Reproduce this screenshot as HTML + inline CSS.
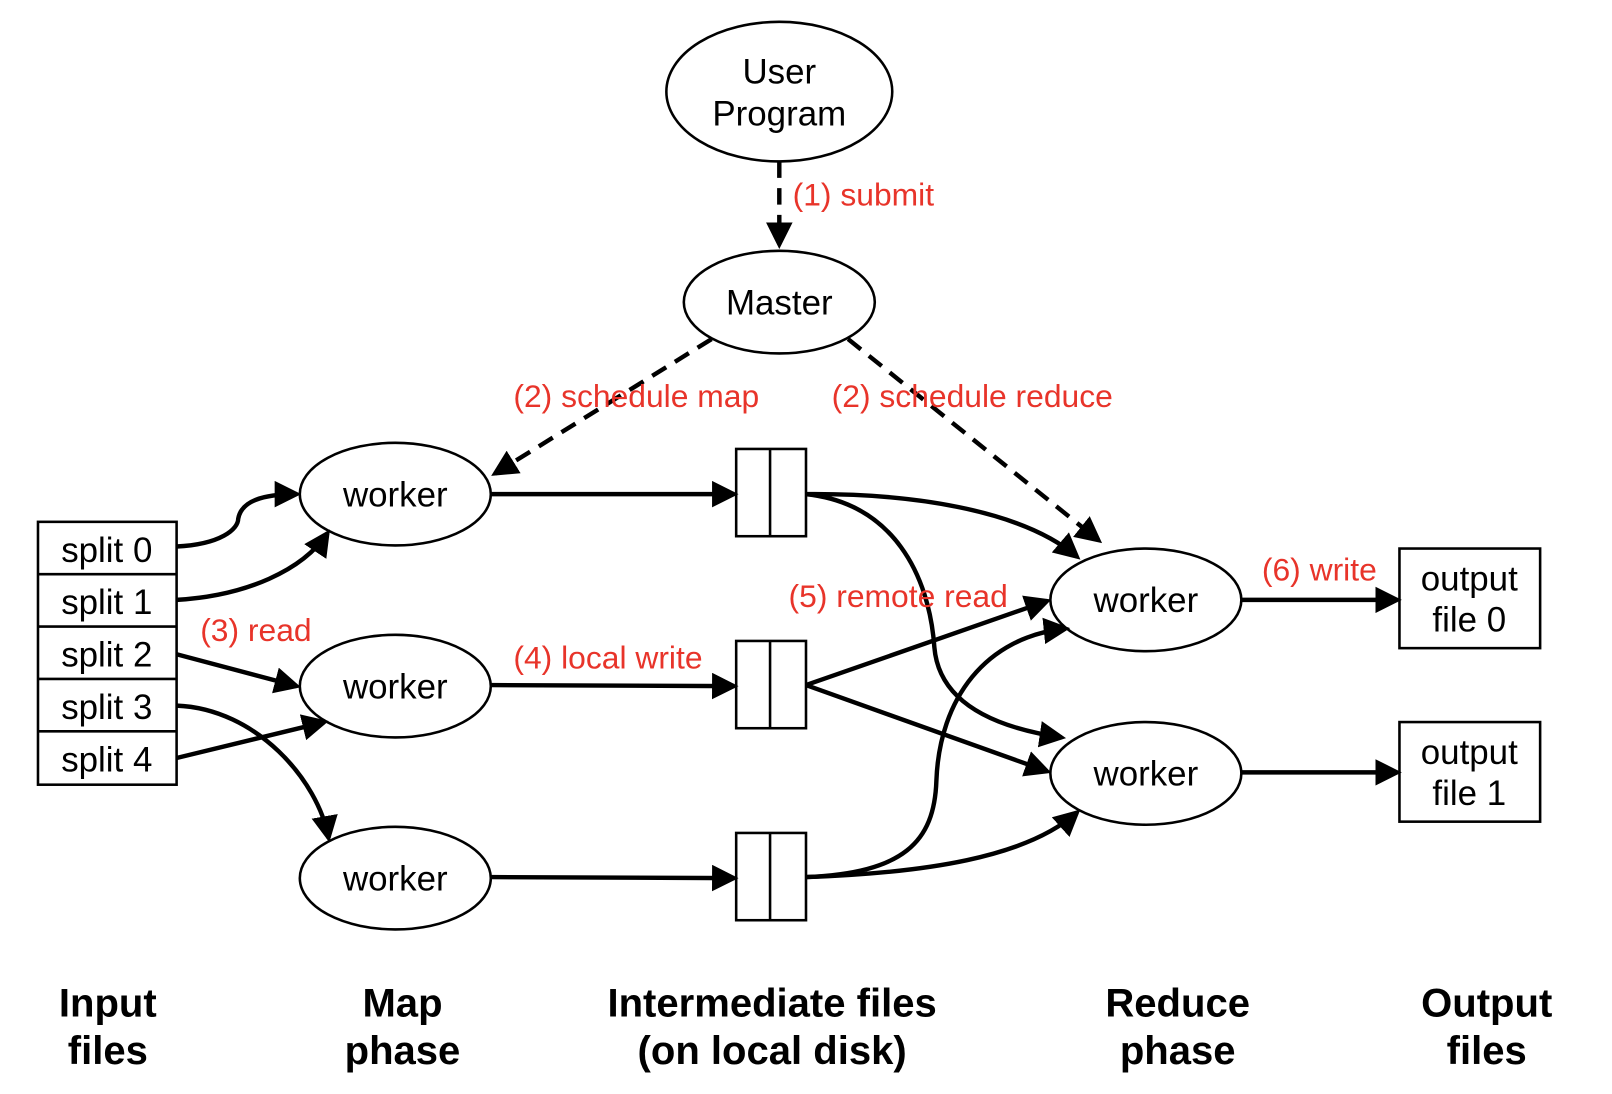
<!DOCTYPE html>
<html><head><meta charset="utf-8"><style>
html,body{margin:0;padding:0;background:#fff;}
svg{display:block;}
text{font-family:"Liberation Sans",Arial,sans-serif;}
.k{fill:#000;font-size:34px;}
.r{fill:#e8342a;font-size:31px;}
.b{fill:#000;font-size:39px;font-weight:bold;}
</style></head><body>
<svg width="1612" height="1094" viewBox="0 0 1570 1065" xmlns="http://www.w3.org/2000/svg">
<defs>
<marker id="a" markerWidth="6" markerHeight="6" refX="5" refY="3" orient="auto" markerUnits="strokeWidth">
<path d="M0,0 L6,3 L0,6 z" fill="#000"/></marker>
</defs>
<g fill="none" stroke="#000" stroke-width="2.5">
<ellipse cx="759" cy="89" rx="110" ry="68"/>
<ellipse cx="759" cy="294" rx="93" ry="50"/>
<ellipse cx="385" cy="481" rx="93" ry="50"/>
<ellipse cx="385" cy="668" rx="93" ry="50"/>
<ellipse cx="385" cy="855" rx="93" ry="50"/>
<ellipse cx="1116" cy="584" rx="93" ry="50"/>
<ellipse cx="1116" cy="753" rx="93" ry="50"/>
<rect x="37" y="508" width="135" height="256"/>
<line x1="37" y1="559" x2="172" y2="559"/>
<line x1="37" y1="610" x2="172" y2="610"/>
<line x1="37" y1="661" x2="172" y2="661"/>
<line x1="37" y1="712" x2="172" y2="712"/>
<rect x="717" y="437" width="68" height="85"/><line x1="750" y1="437" x2="750" y2="522"/>
<rect x="717" y="624" width="68" height="85"/><line x1="750" y1="624" x2="750" y2="709"/>
<rect x="717" y="811" width="68" height="85"/><line x1="750" y1="811" x2="750" y2="896"/>
<rect x="1363" y="534" width="137" height="97"/>
<rect x="1363" y="703" width="137" height="97"/>
</g>
<g fill="none" stroke="#000" stroke-width="4.3" marker-end="url(#a)">
<line x1="759" y1="157" x2="759" y2="238" stroke-dasharray="16,10"/>
<line x1="693" y1="330" x2="482" y2="461" stroke-dasharray="16,10"/>
<line x1="826" y1="330" x2="1070" y2="526" stroke-dasharray="16,10"/>
<path d="M172,532 C215,530 232,515 232,505 C235,488 255,481 289,481"/>
<path d="M172,584 C240,580 295,555 319,519"/>
<line x1="172" y1="637" x2="289" y2="668"/>
<path d="M172,687 C250,690 310,760 320,816"/>
<line x1="172" y1="738" x2="316" y2="703"/>
<line x1="478" y1="481" x2="715" y2="481"/>
<line x1="478" y1="667" x2="715" y2="668"/>
<line x1="478" y1="854" x2="715" y2="855"/>
<path d="M785,481 C900,480 1000,500 1049,542"/>
<path d="M785,481 C870,490 905,560 910,630 C915,690 980,710 1034,718"/>
<line x1="785" y1="667" x2="1020" y2="585"/>
<line x1="785" y1="667" x2="1020" y2="751"/>
<path d="M785,854 C880,850 910,820 912,760 C915,680 960,620 1038,612"/>
<path d="M785,854 C900,850 1000,835 1049,791"/>
<line x1="1209" y1="584" x2="1361" y2="584"/>
<line x1="1209" y1="752" x2="1361" y2="752"/>
</g>
<g text-anchor="middle" class="k">
<text x="759" y="81" class="k">User</text>
<text x="759" y="122" class="k">Program</text>
<text x="759" y="306" class="k">Master</text>
<text x="385" y="493" class="k">worker</text>
<text x="385" y="680" class="k">worker</text>
<text x="385" y="867" class="k">worker</text>
<text x="1116" y="596" class="k">worker</text>
<text x="1116" y="765" class="k">worker</text>
<text x="104" y="547" class="k">split 0</text>
<text x="104" y="598" class="k">split 1</text>
<text x="104" y="649" class="k">split 2</text>
<text x="104" y="700" class="k">split 3</text>
<text x="104" y="751" class="k">split 4</text>
<text x="1431" y="575" class="k">output</text>
<text x="1431" y="615" class="k">file 0</text>
<text x="1431" y="744" class="k">output</text>
<text x="1431" y="784" class="k">file 1</text>
</g>
<g class="r">
<text x="772" y="200" class="r">(1) submit</text>
<text x="500" y="396" class="r">(2) schedule map</text>
<text x="810" y="396" class="r">(2) schedule reduce</text>
<text x="195" y="624" class="r">(3) read</text>
<text x="500" y="651" class="r">(4) local write</text>
<text x="768" y="591" class="r">(5) remote read</text>
<text x="1229" y="565" class="r">(6) write</text>
</g>
<g text-anchor="middle">
<text x="105" y="990" class="b">Input</text><text x="105" y="1036" class="b">files</text>
<text x="392" y="990" class="b">Map</text><text x="392" y="1036" class="b">phase</text>
<text x="752" y="990" class="b">Intermediate files</text><text x="752" y="1036" class="b">(on local disk)</text>
<text x="1147" y="990" class="b">Reduce</text><text x="1147" y="1036" class="b">phase</text>
<text x="1448" y="990" class="b">Output</text><text x="1448" y="1036" class="b">files</text>
</g>
</svg>
</body></html>
